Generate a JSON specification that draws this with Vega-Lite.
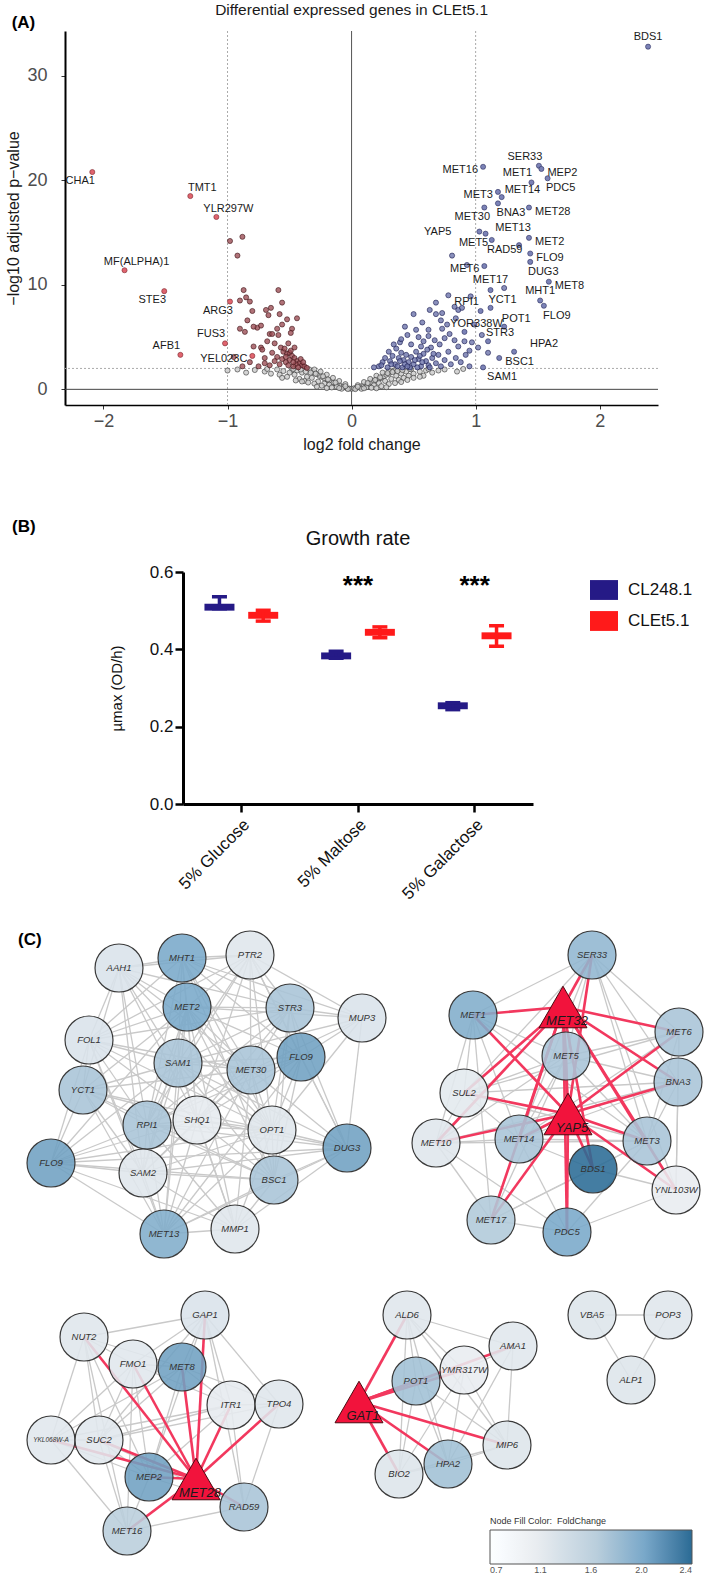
{
"$schema":"https://vega.github.io/schema/vega-lite/v6.json",
"background":"white",
"padding":{"left":4,"top":2,"right":0,"bottom":0},
"config":{"view":{"stroke":null},"font":"Liberation Sans","axis":{"grid":false},"title":{"font":"Liberation Sans"},"legend":{"labelFont":"Liberation Sans","titleFont":"Liberation Sans"}},
"datasets":{
"vn":[{"x":0,"y":0.05},{"x":0.02,"y":0.1},{"x":-0.02,"y":0.08},{"x":0.04,"y":0.15},{"x":-0.04,"y":0.12},{"x":0.06,"y":0.2},{"x":-0.06,"y":0.22},{"x":0.08,"y":0.3},{"x":-0.08,"y":0.28},{"x":0.1,"y":0.35},{"x":-0.1,"y":0.4},{"x":0.12,"y":0.45},{"x":-0.12,"y":0.5},{"x":0.14,"y":0.55},{"x":-0.14,"y":0.6},{"x":0.16,"y":0.7},{"x":-0.16,"y":0.65},{"x":0.18,"y":0.8},{"x":-0.18,"y":0.85},{"x":0.2,"y":0.9},{"x":-0.2,"y":0.95},{"x":0.22,"y":1.0},{"x":-0.22,"y":1.05},{"x":0.24,"y":1.1},{"x":-0.24,"y":1.2},{"x":0.26,"y":1.25},{"x":-0.26,"y":1.3},{"x":0.28,"y":1.4},{"x":-0.28,"y":1.45},{"x":0.3,"y":1.5},{"x":-0.3,"y":1.6},{"x":0.32,"y":1.7},{"x":-0.32,"y":1.75},{"x":0.34,"y":1.8},{"x":-0.34,"y":1.9},{"x":0.36,"y":1.9},{"x":0.05,"y":0.4},{"x":-0.05,"y":0.5},{"x":0.1,"y":0.7},{"x":-0.1,"y":0.8},{"x":0.15,"y":1.0},{"x":-0.15,"y":1.1},{"x":0.2,"y":1.3},{"x":-0.2,"y":1.4},{"x":0.25,"y":1.6},{"x":-0.25,"y":1.7},{"x":0.3,"y":1.8},{"x":-0.3,"y":1.9},{"x":0.12,"y":0.2},{"x":-0.12,"y":0.25},{"x":0.18,"y":0.4},{"x":-0.18,"y":0.45},{"x":0.22,"y":0.6},{"x":-0.22,"y":0.55},{"x":0.27,"y":0.8},{"x":-0.27,"y":0.75},{"x":0.32,"y":1.0},{"x":-0.32,"y":1.1},{"x":0.36,"y":1.3},{"x":-0.36,"y":1.2},{"x":0.4,"y":1.5},{"x":-0.4,"y":1.6},{"x":0.44,"y":1.7},{"x":-0.44,"y":1.8},{"x":0.48,"y":1.9},{"x":-0.48,"y":1.85},{"x":0.38,"y":0.9},{"x":-0.38,"y":0.8},{"x":0.42,"y":1.1},{"x":-0.42,"y":1.0},{"x":0.46,"y":1.3},{"x":-0.46,"y":1.4},{"x":0.5,"y":1.5},{"x":-0.5,"y":1.6},{"x":0.55,"y":1.7},{"x":-0.55,"y":1.75},{"x":0.6,"y":1.8},{"x":-0.6,"y":1.9},{"x":0.5,"y":1.1},{"x":-0.52,"y":1.2},{"x":0.58,"y":1.3},{"x":-0.58,"y":1.4},{"x":0.65,"y":1.6},{"x":-0.65,"y":1.5},{"x":0.7,"y":1.8},{"x":-0.7,"y":1.7},{"x":0.75,"y":1.9},{"x":-0.78,"y":1.85},{"x":0.85,"y":1.7},{"x":-0.85,"y":1.6},{"x":-0.92,"y":1.9},{"x":0.9,"y":1.95},{"x":-1.0,"y":1.8},{"x":0.62,"y":1.95},{"x":-0.68,"y":1.95},{"x":0.08,"y":0.05},{"x":-0.08,"y":0.06},{"x":0.03,"y":0.02},{"x":-0.03,"y":0.03},{"x":0.16,"y":0.15},{"x":-0.16,"y":0.18},{"x":0.24,"y":0.3},{"x":-0.24,"y":0.35},{"x":0.3,"y":0.5},{"x":-0.3,"y":0.55},{"x":0.35,"y":0.6},{"x":-0.35,"y":0.65},{"x":0.28,"y":0.2},{"x":-0.28,"y":0.25},{"x":0.2,"y":0.1},{"x":-0.2,"y":0.12},{"x":0.1,"y":0.1},{"x":-0.1,"y":0.12},{"x":0.45,"y":0.9},{"x":-0.45,"y":0.85},{"x":0.4,"y":0.7},{"x":-0.4,"y":0.75},{"x":0.55,"y":1.2},{"x":-0.56,"y":1.1},{"x":0.05,"y":0.25},{"x":-0.05,"y":0.3},{"x":0.13,"y":0.6},{"x":-0.13,"y":0.65},{"x":0.19,"y":0.9},{"x":-0.19,"y":0.95},{"x":0.23,"y":1.15},{"x":-0.23,"y":1.25},{"x":0.29,"y":1.55},{"x":-0.29,"y":1.5},{"x":0.33,"y":1.65},{"x":-0.33,"y":1.6},{"x":0.37,"y":1.75},{"x":-0.37,"y":1.7},{"x":0.41,"y":1.85},{"x":-0.41,"y":1.9},{"x":0.47,"y":1.95},{"x":-0.47,"y":1.95}],
"vd":[{"x":-0.98,"y":14.2},{"x":-0.88,"y":14.6},{"x":-0.92,"y":12.8},{"x":-0.87,"y":9.5},{"x":-0.59,"y":9.5},{"x":-0.9,"y":8.5},{"x":-0.85,"y":8.8},{"x":-0.82,"y":8.4},{"x":-0.56,"y":8.3},{"x":-0.8,"y":7.5},{"x":-0.65,"y":7.8},{"x":-0.69,"y":7.6},{"x":-0.67,"y":7.1},{"x":-0.58,"y":7.2},{"x":-0.84,"y":6.6},{"x":-0.76,"y":5.9},{"x":-0.79,"y":6.0},{"x":-0.73,"y":6.1},{"x":-0.52,"y":6.7},{"x":-0.44,"y":6.8},{"x":-0.56,"y":6.2},{"x":-0.6,"y":5.8},{"x":-0.48,"y":5.8},{"x":-0.9,"y":5.8},{"x":-0.86,"y":5.5},{"x":-0.49,"y":5.4},{"x":-0.66,"y":5.3},{"x":-0.64,"y":5.3},{"x":-0.59,"y":5.2},{"x":-0.79,"y":4.1},{"x":-0.73,"y":4.0},{"x":-0.57,"y":4.0},{"x":-0.7,"y":3.0},{"x":-0.55,"y":3.6},{"x":-0.52,"y":3.4},{"x":-0.5,"y":3.5},{"x":-0.48,"y":3.2},{"x":-0.46,"y":3.0},{"x":-0.5,"y":2.8},{"x":-0.44,"y":2.7},{"x":-0.42,"y":2.5},{"x":-0.4,"y":2.3},{"x":-0.38,"y":2.2},{"x":-0.45,"y":2.4},{"x":-0.53,"y":2.6},{"x":-0.56,"y":2.9},{"x":-0.6,"y":3.1},{"x":-0.62,"y":2.7},{"x":-0.58,"y":2.4},{"x":-0.47,"y":2.2},{"x":-0.43,"y":2.1},{"x":-0.36,"y":2.05},{"x":-0.49,"y":3.7},{"x":-0.54,"y":3.9},{"x":-0.41,"y":2.9},{"x":-0.39,"y":2.6},{"x":-0.66,"y":2.3},{"x":-0.7,"y":2.5},{"x":-0.75,"y":2.2},{"x":-0.64,"y":3.5},{"x":-0.51,"y":4.4},{"x":-0.46,"y":4.0},{"x":-0.68,"y":4.6},{"x":-0.62,"y":4.4},{"x":-0.82,"y":2.6},{"x":-0.88,"y":2.2},{"x":-0.95,"y":3.1},{"x":-0.72,"y":3.8},{"x":-0.53,"y":3.1},{"x":-0.47,"y":2.6},{"x":-0.51,"y":2.3}],
"vu":[{"x":0.81,"y":12.8},{"x":0.93,"y":11.9},{"x":1.23,"y":9.7},{"x":0.68,"y":8.3},{"x":0.5,"y":7.2},{"x":0.68,"y":7.2},{"x":0.83,"y":7.9},{"x":0.86,"y":7.6},{"x":0.89,"y":7.8},{"x":0.77,"y":6.2},{"x":0.43,"y":6.0},{"x":0.52,"y":5.7},{"x":0.62,"y":5.7},{"x":0.73,"y":5.8},{"x":0.45,"y":5.2},{"x":0.54,"y":5.0},{"x":0.62,"y":5.1},{"x":0.67,"y":4.7},{"x":0.75,"y":4.9},{"x":0.83,"y":4.7},{"x":0.91,"y":4.6},{"x":0.97,"y":4.5},{"x":0.39,"y":4.5},{"x":0.48,"y":4.3},{"x":0.56,"y":4.1},{"x":0.64,"y":4.0},{"x":0.3,"y":3.6},{"x":0.33,"y":3.2},{"x":0.36,"y":3.9},{"x":0.38,"y":3.0},{"x":0.4,"y":3.5},{"x":0.42,"y":2.8},{"x":0.44,"y":3.3},{"x":0.46,"y":2.6},{"x":0.48,"y":3.1},{"x":0.5,"y":2.4},{"x":0.52,"y":3.6},{"x":0.54,"y":2.9},{"x":0.56,"y":2.2},{"x":0.58,"y":3.4},{"x":0.6,"y":2.7},{"x":0.62,"y":2.3},{"x":0.65,"y":3.0},{"x":0.68,"y":2.5},{"x":0.7,"y":3.3},{"x":0.72,"y":2.2},{"x":0.75,"y":2.8},{"x":0.78,"y":3.6},{"x":0.8,"y":2.4},{"x":0.84,"y":3.0},{"x":0.88,"y":2.6},{"x":0.92,"y":3.3},{"x":0.95,"y":2.2},{"x":0.25,"y":2.6},{"x":0.27,"y":3.0},{"x":0.22,"y":2.2},{"x":0.18,"y":2.1},{"x":0.24,"y":2.3},{"x":0.29,"y":2.1},{"x":0.31,"y":2.7},{"x":0.35,"y":2.4},{"x":0.37,"y":2.2},{"x":0.41,"y":2.1},{"x":0.43,"y":2.4},{"x":0.47,"y":2.1},{"x":0.53,"y":2.1},{"x":0.57,"y":2.6},{"x":0.63,"y":2.1},{"x":0.34,"y":4.3},{"x":0.4,"y":4.8},{"x":0.58,"y":4.6},{"x":0.71,"y":4.3},{"x":0.79,"y":5.3},{"x":0.86,"y":4.1},{"x":0.95,"y":3.7},{"x":1.02,"y":4.0},{"x":0.99,"y":6.2},{"x":0.72,"y":6.6},{"x":0.57,"y":6.4},{"x":0.63,"y":7.6},{"x":0.78,"y":9.0},{"x":0.96,"y":8.9},{"x":0.73,"y":7.3},{"x":0.84,"y":6.8},{"x":1.05,"y":5.2},{"x":1.1,"y":3.5},{"x":0.32,"y":2.4},{"x":0.39,"y":2.7},{"x":0.45,"y":2.2},{"x":0.51,"y":2.8},{"x":0.55,"y":3.2},{"x":0.61,"y":3.8},{"x":0.66,"y":3.4}],
"vl":[{"g":"CHA1","x":-2.09,"y":20.8,"c":"d"},{"g":"TMT1","x":-1.3,"y":18.5,"c":"d"},{"g":"YLR297W","x":-1.09,"y":16.5,"c":"d"},{"g":"MF(ALPHA)1","x":-1.83,"y":11.4,"c":"d"},{"g":"STE3","x":-1.51,"y":9.4,"c":"d"},{"g":"ARG3","x":-0.98,"y":8.4,"c":"d"},{"g":"FUS3","x":-1.02,"y":4.4,"c":"d"},{"g":"AFB1","x":-1.38,"y":3.3,"c":"d"},{"g":"YEL023C","x":-0.8,"y":3.2,"c":"d"},
{"g":"BDS1","x":2.39,"y":32.8,"c":"u"},{"g":"SER33","x":1.51,"y":21.4,"c":"u"},{"g":"MEP2","x":1.53,"y":21.1,"c":"u"},{"g":"PDC5","x":1.58,"y":20.2,"c":"u"},{"g":"MET16","x":1.06,"y":21.3,"c":"u"},{"g":"MET1","x":1.45,"y":19.8,"c":"u"},{"g":"MET3","x":1.18,"y":18.9,"c":"u"},{"g":"MET14","x":1.21,"y":18.4,"c":"u"},{"g":"BNA3","x":1.18,"y":17.8,"c":"u"},{"g":"MET30","x":1.07,"y":17.4,"c":"u"},{"g":"MET28","x":1.43,"y":17.4,"c":"u"},{"g":"YAP5","x":1.03,"y":15.1,"c":"u"},{"g":"MET5","x":1.08,"y":14.9,"c":"u"},{"g":"RAD59","x":1.13,"y":14.3,"c":"u"},{"g":"MET13","x":1.35,"y":13.8,"c":"u"},{"g":"MET2","x":1.43,"y":14.5,"c":"u"},{"g":"FLO9","x":1.44,"y":13.0,"c":"u"},{"g":"DUG3","x":1.44,"y":12.2,"c":"u"},{"g":"MET6","x":1.07,"y":11.8,"c":"u"},{"g":"MET8","x":1.59,"y":10.3,"c":"u"},{"g":"MET17","x":1.12,"y":9.5,"c":"u"},{"g":"RPI1","x":1.04,"y":7.5,"c":"u"},{"g":"YCT1","x":1.12,"y":7.8,"c":"u"},{"g":"MHT1","x":1.52,"y":8.5,"c":"u"},{"g":"FLO9","x":1.55,"y":8.0,"c":"u"},{"g":"YOR338W","x":0.91,"y":5.5,"c":"u"},{"g":"POT1","x":1.23,"y":6.0,"c":"u"},{"g":"STR3","x":1.1,"y":4.6,"c":"u"},{"g":"HPA2","x":1.31,"y":3.6,"c":"u"},{"g":"BSC1","x":1.19,"y":3.0,"c":"u"},{"g":"SAM1","x":1.06,"y":2.1,"c":"u"}],
"growth":[{"cond":"5% Glucose","strain":"CL248.1","m":0.509,"lo":0.505,"hi":0.536},{"cond":"5% Glucose","strain":"CLEt5.1","m":0.488,"lo":0.473,"hi":0.501},{"cond":"5% Maltose","strain":"CL248.1","m":0.383,"lo":0.377,"hi":0.395},{"cond":"5% Maltose","strain":"CLEt5.1","m":0.444,"lo":0.43,"hi":0.458},{"cond":"5% Galactose","strain":"CL248.1","m":0.254,"lo":0.244,"hi":0.262},{"cond":"5% Galactose","strain":"CLEt5.1","m":0.435,"lo":0.408,"hi":0.461}],
"stars":[{"cond":"5% Maltose","sig":"***"},{"cond":"5% Galactose","sig":"***"}],
"nodes":[
{"id":"AAH1","n":"AAH1","x":119,"y":963,"fc":1.25,"tf":0},{"id":"MHT1","n":"MHT1","x":182,"y":953,"fc":2.0,"tf":0},{"id":"PTR2","n":"PTR2","x":250,"y":950,"fc":1.2,"tf":0},{"id":"MET2","n":"MET2","x":187,"y":1002,"fc":2.0,"tf":0},{"id":"STR3","n":"STR3","x":290,"y":1003,"fc":1.7,"tf":0},{"id":"MUP3","n":"MUP3","x":362,"y":1013,"fc":1.25,"tf":0},{"id":"FOL1","n":"FOL1","x":89,"y":1035,"fc":1.25,"tf":0},{"id":"SAM1","n":"SAM1","x":178,"y":1058,"fc":1.7,"tf":0},{"id":"MET30","n":"MET30","x":251,"y":1065,"fc":1.7,"tf":0},{"id":"FLO9a","n":"FLO9","x":301,"y":1052,"fc":2.05,"tf":0},{"id":"YCT1","n":"YCT1","x":83,"y":1085,"fc":1.7,"tf":0},{"id":"RPI1","n":"RPI1","x":147,"y":1120,"fc":1.7,"tf":0},{"id":"SHQ1","n":"SHQ1","x":197,"y":1115,"fc":1.12,"tf":0},{"id":"OPT1","n":"OPT1","x":272,"y":1125,"fc":1.2,"tf":0},{"id":"DUG3","n":"DUG3","x":347,"y":1143,"fc":2.05,"tf":0},{"id":"FLO9b","n":"FLO9","x":51,"y":1158,"fc":2.05,"tf":0},{"id":"SAM2","n":"SAM2","x":143,"y":1168,"fc":1.2,"tf":0},{"id":"BSC1","n":"BSC1","x":274,"y":1175,"fc":1.7,"tf":0},{"id":"MET13","n":"MET13","x":164,"y":1229,"fc":1.95,"tf":0},{"id":"MMP1","n":"MMP1","x":235,"y":1224,"fc":1.2,"tf":0},
{"id":"SER33","n":"SER33","x":592,"y":950,"fc":1.85,"tf":0},{"id":"MET1","n":"MET1","x":473,"y":1010,"fc":1.95,"tf":0},{"id":"MET6","n":"MET6","x":679,"y":1027,"fc":1.7,"tf":0},{"id":"MET5","n":"MET5","x":566,"y":1051,"fc":1.7,"tf":0},{"id":"SUL2","n":"SUL2","x":464,"y":1088,"fc":1.15,"tf":0},{"id":"BNA3","n":"BNA3","x":678,"y":1077,"fc":1.7,"tf":0},{"id":"MET10","n":"MET10","x":436,"y":1138,"fc":1.2,"tf":0},{"id":"MET14","n":"MET14","x":519,"y":1134,"fc":1.7,"tf":0},{"id":"MET3","n":"MET3","x":647,"y":1136,"fc":1.7,"tf":0},{"id":"BDS1","n":"BDS1","x":593,"y":1164,"fc":2.4,"tf":0},{"id":"YNL103W","n":"YNL103W","x":676,"y":1185,"fc":1.1,"tf":0},{"id":"MET17","n":"MET17","x":491,"y":1215,"fc":1.65,"tf":0},{"id":"PDC5","n":"PDC5","x":567,"y":1227,"fc":2.0,"tf":0},
{"id":"GAP1","n":"GAP1","x":205,"y":1310,"fc":1.25,"tf":0},{"id":"NUT2","n":"NUT2","x":84,"y":1332,"fc":1.2,"tf":0},{"id":"FMO1","n":"FMO1","x":133,"y":1359,"fc":1.18,"tf":0},{"id":"MET8","n":"MET8","x":182,"y":1362,"fc":2.05,"tf":0},{"id":"ITR1","n":"ITR1","x":231,"y":1400,"fc":1.12,"tf":0},{"id":"TPO4","n":"TPO4","x":279,"y":1399,"fc":1.2,"tf":0},{"id":"YKL068W-A","n":"YKL068W-A","x":51,"y":1435,"fc":1.18,"tf":0},{"id":"SUC2","n":"SUC2","x":99,"y":1435,"fc":1.18,"tf":0},{"id":"MEP2","n":"MEP2","x":149,"y":1472,"fc":2.05,"tf":0},{"id":"RAD59","n":"RAD59","x":244,"y":1502,"fc":1.7,"tf":0},{"id":"MET16","n":"MET16","x":127,"y":1526,"fc":1.6,"tf":0},
{"id":"ALD6","n":"ALD6","x":407,"y":1310,"fc":1.2,"tf":0},{"id":"AMA1","n":"AMA1","x":513,"y":1341,"fc":1.18,"tf":0},{"id":"YMR317W","n":"YMR317W","x":464,"y":1365,"fc":1.1,"tf":0},{"id":"POT1","n":"POT1","x":416,"y":1376,"fc":1.75,"tf":0},{"id":"MIP6","n":"MIP6","x":507,"y":1440,"fc":1.22,"tf":0},{"id":"BIO2","n":"BIO2","x":399,"y":1469,"fc":1.22,"tf":0},{"id":"HPA2","n":"HPA2","x":448,"y":1459,"fc":1.75,"tf":0},
{"id":"VBA5","n":"VBA5","x":592,"y":1310,"fc":1.22,"tf":0},{"id":"POP3","n":"POP3","x":668,"y":1310,"fc":1.2,"tf":0},{"id":"ALP1","n":"ALP1","x":631,"y":1375,"fc":1.22,"tf":0},
{"id":"MET32","n":"MET32","x":563,"y":1002,"tf":1},{"id":"YAP5","n":"YAP5","x":568,"y":1109,"tf":1},{"id":"MET28","n":"MET28","x":196,"y":1474,"tf":1},{"id":"GAT1","n":"GAT1","x":359,"y":1397,"tf":1}],
"edges":[
{"s":"AAH1","t":"MHT1","k":"g"},{"s":"AAH1","t":"MET2","k":"g"},{"s":"AAH1","t":"FOL1","k":"g"},{"s":"AAH1","t":"SAM1","k":"g"},{"s":"AAH1","t":"MET30","k":"g"},{"s":"AAH1","t":"YCT1","k":"g"},{"s":"AAH1","t":"RPI1","k":"g"},{"s":"AAH1","t":"SHQ1","k":"g"},{"s":"AAH1","t":"OPT1","k":"g"},{"s":"AAH1","t":"STR3","k":"g"},{"s":"AAH1","t":"SAM2","k":"g"},{"s":"AAH1","t":"PTR2","k":"g"},
{"s":"MHT1","t":"PTR2","k":"g"},{"s":"MHT1","t":"MET2","k":"g"},{"s":"MHT1","t":"STR3","k":"g"},{"s":"MHT1","t":"SAM1","k":"g"},{"s":"MHT1","t":"MET30","k":"g"},{"s":"MHT1","t":"FLO9a","k":"g"},{"s":"MHT1","t":"RPI1","k":"g"},{"s":"MHT1","t":"SHQ1","k":"g"},{"s":"MHT1","t":"OPT1","k":"g"},{"s":"MHT1","t":"FOL1","k":"g"},{"s":"MHT1","t":"BSC1","k":"g"},{"s":"MHT1","t":"MUP3","k":"g"},
{"s":"PTR2","t":"MET2","k":"g"},{"s":"PTR2","t":"STR3","k":"g"},{"s":"PTR2","t":"MUP3","k":"g"},{"s":"PTR2","t":"SAM1","k":"g"},{"s":"PTR2","t":"MET30","k":"g"},{"s":"PTR2","t":"FLO9a","k":"g"},{"s":"PTR2","t":"SHQ1","k":"g"},{"s":"PTR2","t":"OPT1","k":"g"},{"s":"PTR2","t":"RPI1","k":"g"},{"s":"PTR2","t":"FOL1","k":"g"},{"s":"PTR2","t":"DUG3","k":"g"},
{"s":"MET2","t":"STR3","k":"g"},{"s":"MET2","t":"FOL1","k":"g"},{"s":"MET2","t":"SAM1","k":"g"},{"s":"MET2","t":"MET30","k":"g"},{"s":"MET2","t":"FLO9a","k":"g"},{"s":"MET2","t":"YCT1","k":"g"},{"s":"MET2","t":"RPI1","k":"g"},{"s":"MET2","t":"SHQ1","k":"g"},{"s":"MET2","t":"OPT1","k":"g"},{"s":"MET2","t":"SAM2","k":"g"},{"s":"MET2","t":"BSC1","k":"g"},{"s":"MET2","t":"MET13","k":"g"},{"s":"MET2","t":"MMP1","k":"g"},{"s":"MET2","t":"FLO9b","k":"g"},{"s":"MET2","t":"MUP3","k":"g"},
{"s":"STR3","t":"MUP3","k":"g"},{"s":"STR3","t":"SAM1","k":"g"},{"s":"STR3","t":"MET30","k":"g"},{"s":"STR3","t":"FLO9a","k":"g"},{"s":"STR3","t":"SHQ1","k":"g"},{"s":"STR3","t":"OPT1","k":"g"},{"s":"STR3","t":"DUG3","k":"g"},{"s":"STR3","t":"RPI1","k":"g"},{"s":"STR3","t":"BSC1","k":"g"},{"s":"STR3","t":"FOL1","k":"g"},
{"s":"MUP3","t":"FLO9a","k":"g"},{"s":"MUP3","t":"MET30","k":"g"},{"s":"MUP3","t":"OPT1","k":"g"},{"s":"MUP3","t":"DUG3","k":"g"},{"s":"MUP3","t":"SAM1","k":"g"},
{"s":"FOL1","t":"SAM1","k":"g"},{"s":"FOL1","t":"YCT1","k":"g"},{"s":"FOL1","t":"RPI1","k":"g"},{"s":"FOL1","t":"SHQ1","k":"g"},{"s":"FOL1","t":"MET30","k":"g"},{"s":"FOL1","t":"SAM2","k":"g"},{"s":"FOL1","t":"FLO9b","k":"g"},{"s":"FOL1","t":"MET13","k":"g"},{"s":"FOL1","t":"OPT1","k":"g"},
{"s":"SAM1","t":"MET30","k":"g"},{"s":"SAM1","t":"YCT1","k":"g"},{"s":"SAM1","t":"RPI1","k":"g"},{"s":"SAM1","t":"SHQ1","k":"g"},{"s":"SAM1","t":"OPT1","k":"g"},{"s":"SAM1","t":"SAM2","k":"g"},{"s":"SAM1","t":"BSC1","k":"g"},{"s":"SAM1","t":"MET13","k":"g"},{"s":"SAM1","t":"MMP1","k":"g"},{"s":"SAM1","t":"FLO9b","k":"g"},{"s":"SAM1","t":"FLO9a","k":"g"},{"s":"SAM1","t":"DUG3","k":"g"},
{"s":"MET30","t":"FLO9a","k":"g"},{"s":"MET30","t":"RPI1","k":"g"},{"s":"MET30","t":"SHQ1","k":"g"},{"s":"MET30","t":"OPT1","k":"g"},{"s":"MET30","t":"DUG3","k":"g"},{"s":"MET30","t":"BSC1","k":"g"},{"s":"MET30","t":"SAM2","k":"g"},{"s":"MET30","t":"MET13","k":"g"},{"s":"MET30","t":"MMP1","k":"g"},{"s":"MET30","t":"YCT1","k":"g"},
{"s":"FLO9a","t":"OPT1","k":"g"},{"s":"FLO9a","t":"DUG3","k":"g"},{"s":"FLO9a","t":"SHQ1","k":"g"},{"s":"FLO9a","t":"BSC1","k":"g"},{"s":"FLO9a","t":"RPI1","k":"g"},{"s":"FLO9a","t":"MET13","k":"g"},
{"s":"YCT1","t":"RPI1","k":"g"},{"s":"YCT1","t":"SHQ1","k":"g"},{"s":"YCT1","t":"SAM2","k":"g"},{"s":"YCT1","t":"FLO9b","k":"g"},{"s":"YCT1","t":"MET13","k":"g"},{"s":"YCT1","t":"OPT1","k":"g"},{"s":"YCT1","t":"BSC1","k":"g"},
{"s":"RPI1","t":"SHQ1","k":"g"},{"s":"RPI1","t":"OPT1","k":"g"},{"s":"RPI1","t":"SAM2","k":"g"},{"s":"RPI1","t":"BSC1","k":"g"},{"s":"RPI1","t":"MET13","k":"g"},{"s":"RPI1","t":"MMP1","k":"g"},{"s":"RPI1","t":"FLO9b","k":"g"},{"s":"RPI1","t":"DUG3","k":"g"},
{"s":"SHQ1","t":"OPT1","k":"g"},{"s":"SHQ1","t":"SAM2","k":"g"},{"s":"SHQ1","t":"BSC1","k":"g"},{"s":"SHQ1","t":"MET13","k":"g"},{"s":"SHQ1","t":"MMP1","k":"g"},{"s":"SHQ1","t":"FLO9b","k":"g"},{"s":"SHQ1","t":"DUG3","k":"g"},
{"s":"OPT1","t":"DUG3","k":"g"},{"s":"OPT1","t":"BSC1","k":"g"},{"s":"OPT1","t":"SAM2","k":"g"},{"s":"OPT1","t":"MET13","k":"g"},{"s":"OPT1","t":"MMP1","k":"g"},{"s":"OPT1","t":"FLO9b","k":"g"},
{"s":"DUG3","t":"BSC1","k":"g"},{"s":"DUG3","t":"MMP1","k":"g"},{"s":"DUG3","t":"MET13","k":"g"},{"s":"DUG3","t":"SAM2","k":"g"},{"s":"DUG3","t":"FLO9b","k":"g"},
{"s":"FLO9b","t":"SAM2","k":"g"},{"s":"FLO9b","t":"MET13","k":"g"},{"s":"FLO9b","t":"MMP1","k":"g"},{"s":"FLO9b","t":"BSC1","k":"g"},
{"s":"SAM2","t":"MET13","k":"g"},{"s":"SAM2","t":"MMP1","k":"g"},{"s":"SAM2","t":"BSC1","k":"g"},{"s":"BSC1","t":"MET13","k":"g"},{"s":"BSC1","t":"MMP1","k":"g"},{"s":"MET13","t":"MMP1","k":"g"},
{"s":"SER33","t":"MET1","k":"g"},{"s":"SER33","t":"MET6","k":"g"},{"s":"SER33","t":"BNA3","k":"g"},{"s":"SER33","t":"MET5","k":"g"},{"s":"SER33","t":"MET3","k":"g"},{"s":"SER33","t":"YNL103W","k":"g"},{"s":"SER33","t":"MET14","k":"g"},{"s":"SER33","t":"SUL2","k":"g"},
{"s":"MET1","t":"SUL2","k":"g"},{"s":"MET1","t":"MET5","k":"g"},{"s":"MET1","t":"MET10","k":"g"},{"s":"MET1","t":"MET14","k":"g"},{"s":"MET1","t":"MET3","k":"g"},{"s":"MET1","t":"MET17","k":"g"},
{"s":"MET6","t":"BNA3","k":"g"},{"s":"MET6","t":"MET5","k":"g"},{"s":"MET6","t":"MET14","k":"g"},{"s":"MET6","t":"MET3","k":"g"},{"s":"MET6","t":"YNL103W","k":"g"},{"s":"MET6","t":"SUL2","k":"g"},
{"s":"MET5","t":"SUL2","k":"g"},{"s":"MET5","t":"BNA3","k":"g"},{"s":"MET5","t":"MET14","k":"g"},{"s":"MET5","t":"MET3","k":"g"},{"s":"MET5","t":"MET10","k":"g"},{"s":"MET5","t":"MET17","k":"g"},{"s":"MET5","t":"PDC5","k":"g"},
{"s":"SUL2","t":"MET10","k":"g"},{"s":"SUL2","t":"MET14","k":"g"},{"s":"SUL2","t":"MET3","k":"g"},{"s":"SUL2","t":"BNA3","k":"g"},
{"s":"BNA3","t":"MET14","k":"g"},{"s":"BNA3","t":"MET3","k":"g"},{"s":"BNA3","t":"YNL103W","k":"g"},{"s":"BNA3","t":"MET10","k":"g"},
{"s":"MET10","t":"MET14","k":"g"},{"s":"MET10","t":"MET17","k":"g"},{"s":"MET10","t":"MET3","k":"g"},{"s":"MET10","t":"PDC5","k":"g"},
{"s":"MET14","t":"MET3","k":"g"},{"s":"MET14","t":"MET17","k":"g"},{"s":"MET14","t":"BDS1","k":"g"},{"s":"MET14","t":"PDC5","k":"g"},
{"s":"MET3","t":"YNL103W","k":"g"},{"s":"MET3","t":"BDS1","k":"g"},{"s":"MET3","t":"MET17","k":"g"},{"s":"MET3","t":"PDC5","k":"g"},
{"s":"BDS1","t":"MET17","k":"g"},{"s":"BDS1","t":"YNL103W","k":"g"},{"s":"MET17","t":"PDC5","k":"g"},{"s":"PDC5","t":"YNL103W","k":"g"},
{"s":"MET32","t":"SER33","k":"r"},{"s":"MET32","t":"MET1","k":"r"},{"s":"MET32","t":"MET6","k":"r"},{"s":"MET32","t":"MET5","k":"r"},{"s":"MET32","t":"SUL2","k":"r"},{"s":"MET32","t":"BNA3","k":"r"},{"s":"MET32","t":"MET10","k":"r"},{"s":"MET32","t":"MET14","k":"r"},{"s":"MET32","t":"MET3","k":"r"},{"s":"MET32","t":"MET17","k":"r"},{"s":"MET32","t":"PDC5","k":"r"},{"s":"MET32","t":"YNL103W","k":"r"},{"s":"MET32","t":"BDS1","k":"r"},{"s":"MET32","t":"YAP5","k":"r"},
{"s":"YAP5","t":"SER33","k":"r"},{"s":"YAP5","t":"MET1","k":"r"},{"s":"YAP5","t":"MET6","k":"r"},{"s":"YAP5","t":"SUL2","k":"r"},{"s":"YAP5","t":"BNA3","k":"r"},{"s":"YAP5","t":"MET10","k":"r"},{"s":"YAP5","t":"MET14","k":"r"},{"s":"YAP5","t":"MET3","k":"r"},{"s":"YAP5","t":"MET17","k":"r"},{"s":"YAP5","t":"PDC5","k":"r"},{"s":"YAP5","t":"YNL103W","k":"r"},{"s":"YAP5","t":"MET5","k":"r"},{"s":"YAP5","t":"BDS1","k":"r"},
{"s":"GAP1","t":"NUT2","k":"g"},{"s":"GAP1","t":"FMO1","k":"g"},{"s":"GAP1","t":"MET8","k":"g"},{"s":"GAP1","t":"ITR1","k":"g"},{"s":"GAP1","t":"TPO4","k":"g"},{"s":"GAP1","t":"SUC2","k":"g"},{"s":"GAP1","t":"MEP2","k":"g"},{"s":"GAP1","t":"RAD59","k":"g"},
{"s":"NUT2","t":"FMO1","k":"g"},{"s":"NUT2","t":"YKL068W-A","k":"g"},{"s":"NUT2","t":"SUC2","k":"g"},{"s":"NUT2","t":"MEP2","k":"g"},{"s":"NUT2","t":"MET16","k":"g"},{"s":"NUT2","t":"MET8","k":"g"},
{"s":"FMO1","t":"MET8","k":"g"},{"s":"FMO1","t":"SUC2","k":"g"},{"s":"FMO1","t":"YKL068W-A","k":"g"},{"s":"FMO1","t":"MEP2","k":"g"},{"s":"FMO1","t":"ITR1","k":"g"},{"s":"FMO1","t":"MET16","k":"g"},
{"s":"MET8","t":"ITR1","k":"g"},{"s":"MET8","t":"SUC2","k":"g"},{"s":"MET8","t":"MEP2","k":"g"},{"s":"MET8","t":"TPO4","k":"g"},{"s":"MET8","t":"YKL068W-A","k":"g"},
{"s":"ITR1","t":"TPO4","k":"g"},{"s":"ITR1","t":"SUC2","k":"g"},{"s":"ITR1","t":"MEP2","k":"g"},{"s":"ITR1","t":"RAD59","k":"g"},{"s":"ITR1","t":"YKL068W-A","k":"g"},
{"s":"TPO4","t":"RAD59","k":"g"},{"s":"TPO4","t":"SUC2","k":"g"},{"s":"YKL068W-A","t":"SUC2","k":"g"},{"s":"YKL068W-A","t":"MEP2","k":"g"},{"s":"YKL068W-A","t":"MET16","k":"g"},
{"s":"SUC2","t":"MEP2","k":"g"},{"s":"SUC2","t":"MET16","k":"g"},{"s":"SUC2","t":"RAD59","k":"g"},{"s":"MEP2","t":"MET16","k":"g"},{"s":"MEP2","t":"RAD59","k":"g"},{"s":"MET16","t":"RAD59","k":"g"},
{"s":"MET28","t":"NUT2","k":"r"},{"s":"MET28","t":"FMO1","k":"r"},{"s":"MET28","t":"MET8","k":"r"},{"s":"MET28","t":"GAP1","k":"r"},{"s":"MET28","t":"ITR1","k":"r"},{"s":"MET28","t":"TPO4","k":"r"},{"s":"MET28","t":"SUC2","k":"r"},{"s":"MET28","t":"MEP2","k":"r"},{"s":"MET28","t":"YKL068W-A","k":"r"},{"s":"MET28","t":"RAD59","k":"r"},{"s":"MET28","t":"MET16","k":"r"},
{"s":"ALD6","t":"AMA1","k":"g"},{"s":"ALD6","t":"YMR317W","k":"g"},{"s":"ALD6","t":"POT1","k":"g"},{"s":"ALD6","t":"BIO2","k":"g"},{"s":"ALD6","t":"HPA2","k":"g"},{"s":"ALD6","t":"MIP6","k":"g"},{"s":"AMA1","t":"YMR317W","k":"g"},{"s":"AMA1","t":"POT1","k":"g"},{"s":"AMA1","t":"MIP6","k":"g"},{"s":"AMA1","t":"HPA2","k":"g"},{"s":"YMR317W","t":"POT1","k":"g"},{"s":"YMR317W","t":"MIP6","k":"g"},{"s":"YMR317W","t":"HPA2","k":"g"},{"s":"YMR317W","t":"BIO2","k":"g"},{"s":"POT1","t":"BIO2","k":"g"},{"s":"POT1","t":"HPA2","k":"g"},{"s":"POT1","t":"MIP6","k":"g"},{"s":"MIP6","t":"HPA2","k":"g"},{"s":"MIP6","t":"BIO2","k":"g"},{"s":"BIO2","t":"HPA2","k":"g"},
{"s":"GAT1","t":"ALD6","k":"r"},{"s":"GAT1","t":"POT1","k":"r"},{"s":"GAT1","t":"YMR317W","k":"r"},{"s":"GAT1","t":"AMA1","k":"r"},{"s":"GAT1","t":"MIP6","k":"r"},{"s":"GAT1","t":"HPA2","k":"r"},{"s":"GAT1","t":"BIO2","k":"r"},
{"s":"VBA5","t":"POP3","k":"g"},{"s":"VBA5","t":"ALP1","k":"g"},{"s":"POP3","t":"ALP1","k":"g"}]
},
"spacing":10,
"vconcat":[
{"spacing":65,"vconcat":[
{"spacing":0,"hconcat":[
{"width":1,"height":1,"data":{"values":[{}]},"mark":{"type":"text","text":""},"encoding":{}},
{"width":593,"height":374,
"layer":[
{"data":{"values":[{"v":-1},{"v":1}]},"mark":{"type":"rule","color":"#aaaaaa","strokeWidth":1,"strokeDash":[2,2]},"encoding":{"x":{"field":"v","type":"quantitative","scale":{"domain":[-2.31,2.47],"nice":false,"zero":false}}}},
{"data":{"values":[{"v":2}]},"mark":{"type":"rule","color":"#aaaaaa","strokeWidth":1,"strokeDash":[2,2]},"encoding":{"y":{"field":"v","type":"quantitative","scale":{"domain":[-1.5,34.3],"nice":false,"zero":false}}}},
{"data":{"values":[{"v":0}]},"mark":{"type":"rule","color":"#555555","strokeWidth":1},"encoding":{"x":{"field":"v","type":"quantitative","scale":{"domain":[-2.31,2.47],"nice":false,"zero":false}}}},
{"data":{"values":[{"v":0}]},"mark":{"type":"rule","color":"#444444","strokeWidth":1},"encoding":{"y":{"field":"v","type":"quantitative","scale":{"domain":[-1.5,34.3],"nice":false,"zero":false}}}},
{"data":{"name":"vn"},"mark":{"type":"point","filled":true,"size":26,"fill":"#cccccc","stroke":"#333333","strokeWidth":0.6,"opacity":1,"fillOpacity":0.85},
"encoding":{"x":{"field":"x","type":"quantitative","scale":{"domain":[-2.31,2.47],"nice":false,"zero":false},"axis":{"title":"log2 fold change","values":[-2,-1,0,1,2],"format":"d","labelFontSize":18,"labelColor":"#4d4d4d","titleFontSize":16,"titleColor":"#1a1a1a","titleFontWeight":"normal","tickSize":4,"tickColor":"#333333","domainColor":"#000000","domainWidth":1.5,"labelPadding":3,"titlePadding":6,"grid":false}},
"y":{"field":"y","type":"quantitative","scale":{"domain":[-1.5,34.3],"nice":false,"zero":false},"axis":{"title":"−log10 adjusted p−value","values":[0,10,20,30],"labelFontSize":18,"labelColor":"#4d4d4d","labelPadding":14,"tickSize":4,"tickColor":"#333333","titleFontSize":16,"titleColor":"#1a1a1a","titleFontWeight":"normal","titlePadding":5,"domainColor":"#000000","domainWidth":2,"grid":false}}}},
{"data":{"name":"vd"},"mark":{"type":"point","filled":true,"size":26,"fill":"#9c4f56","stroke":"#3a1014","strokeWidth":0.6,"opacity":1,"fillOpacity":0.8},"encoding":{"x":{"field":"x","type":"quantitative","scale":{"domain":[-2.31,2.47],"nice":false,"zero":false}},"y":{"field":"y","type":"quantitative","scale":{"domain":[-1.5,34.3],"nice":false,"zero":false}}}},
{"data":{"name":"vu"},"mark":{"type":"point","filled":true,"size":26,"fill":"#6d74ab","stroke":"#171a4d","strokeWidth":0.6,"opacity":1,"fillOpacity":0.8},"encoding":{"x":{"field":"x","type":"quantitative","scale":{"domain":[-2.31,2.47],"nice":false,"zero":false}},"y":{"field":"y","type":"quantitative","scale":{"domain":[-1.5,34.3],"nice":false,"zero":false}}}},
{"data":{"name":"vl"},"transform":[{"filter":"datum.c==='d'"}],"mark":{"type":"point","filled":true,"size":26,"fill":"#e0646e","stroke":"#7a2a30","strokeWidth":0.6,"opacity":1},"encoding":{"x":{"field":"x","type":"quantitative","scale":{"domain":[-2.31,2.47],"nice":false,"zero":false}},"y":{"field":"y","type":"quantitative","scale":{"domain":[-1.5,34.3],"nice":false,"zero":false}}}},
{"data":{"name":"vl"},"transform":[{"filter":"datum.c==='u'"}],"mark":{"type":"point","filled":true,"size":26,"fill":"#7b82b6","stroke":"#2a2d5e","strokeWidth":0.6,"opacity":1},"encoding":{"x":{"field":"x","type":"quantitative","scale":{"domain":[-2.31,2.47],"nice":false,"zero":false}},"y":{"field":"y","type":"quantitative","scale":{"domain":[-1.5,34.3],"nice":false,"zero":false}}}},
{"data":{"name":"vl"},"transform":[{"filter":{"field":"g","oneOf":["TMT1","YLR297W","MF(ALPHA)1","YCT1","POT1","STR3","YOR338W"]}}],"mark":{"type":"text","fontSize":11,"color":"#1a1a1a","align":"center","baseline":"middle","dx":12,"dy":-8},"encoding":{"x":{"field":"x","type":"quantitative","scale":{"domain":[-2.31,2.47],"nice":false,"zero":false}},"y":{"field":"y","type":"quantitative","scale":{"domain":[-1.5,34.3],"nice":false,"zero":false}},"text":{"field":"g"}}},
{"data":{"name":"vl"},"transform":[{"filter":{"field":"g","oneOf":["CHA1","STE3","MET5","MET30","ARG3"]}}],"mark":{"type":"text","fontSize":11,"color":"#1a1a1a","align":"center","baseline":"middle","dx":-12,"dy":9},"encoding":{"x":{"field":"x","type":"quantitative","scale":{"domain":[-2.31,2.47],"nice":false,"zero":false}},"y":{"field":"y","type":"quantitative","scale":{"domain":[-1.5,34.3],"nice":false,"zero":false}},"text":{"field":"g"}}},
{"data":{"name":"vl"},"transform":[{"filter":{"field":"g","oneOf":["FUS3","AFB1","SER33","MET1","RPI1"]}}],"mark":{"type":"text","fontSize":11,"color":"#1a1a1a","align":"center","baseline":"middle","dx":-14,"dy":-9},"encoding":{"x":{"field":"x","type":"quantitative","scale":{"domain":[-2.31,2.47],"nice":false,"zero":false}},"y":{"field":"y","type":"quantitative","scale":{"domain":[-1.5,34.3],"nice":false,"zero":false}},"text":{"field":"g"}}},
{"data":{"name":"vl"},"transform":[{"filter":"indexof(['MEP2','MET28','MET2','MET8','BSC1'],datum.g)>=0 || (datum.g==='FLO9' && datum.y>10)"}],"mark":{"type":"text","fontSize":11,"color":"#1a1a1a","align":"left","baseline":"middle","dx":6,"dy":4},"encoding":{"x":{"field":"x","type":"quantitative","scale":{"domain":[-2.31,2.47],"nice":false,"zero":false}},"y":{"field":"y","type":"quantitative","scale":{"domain":[-1.5,34.3],"nice":false,"zero":false}},"text":{"field":"g"}}},
{"data":{"name":"vl"},"transform":[{"filter":{"field":"g","oneOf":["MET16","MET3","MET6","YEL023C"]}}],"mark":{"type":"text","fontSize":11,"color":"#1a1a1a","align":"right","baseline":"middle","dx":-5,"dy":3},"encoding":{"x":{"field":"x","type":"quantitative","scale":{"domain":[-2.31,2.47],"nice":false,"zero":false}},"y":{"field":"y","type":"quantitative","scale":{"domain":[-1.5,34.3],"nice":false,"zero":false}},"text":{"field":"g"}}},
{"data":{"name":"vl"},"transform":[{"filter":"datum.g==='YAP5'"}],"mark":{"type":"text","fontSize":11,"color":"#1a1a1a","align":"right","baseline":"middle","dx":-28,"dy":0},"encoding":{"x":{"field":"x","type":"quantitative","scale":{"domain":[-2.31,2.47],"nice":false,"zero":false}},"y":{"field":"y","type":"quantitative","scale":{"domain":[-1.5,34.3],"nice":false,"zero":false}},"text":{"field":"g"}}},
{"data":{"name":"vl"},"transform":[{"filter":{"field":"g","oneOf":["BDS1","MHT1","MET17"]}}],"mark":{"type":"text","fontSize":11,"color":"#1a1a1a","align":"center","baseline":"middle","dx":0,"dy":-10},"encoding":{"x":{"field":"x","type":"quantitative","scale":{"domain":[-2.31,2.47],"nice":false,"zero":false}},"y":{"field":"y","type":"quantitative","scale":{"domain":[-1.5,34.3],"nice":false,"zero":false}},"text":{"field":"g"}}},
{"data":{"name":"vl"},"transform":[{"filter":"datum.g==='MET13'"}],"mark":{"type":"text","fontSize":11,"color":"#1a1a1a","align":"center","baseline":"middle","dx":-6,"dy":-17},"encoding":{"x":{"field":"x","type":"quantitative","scale":{"domain":[-2.31,2.47],"nice":false,"zero":false}},"y":{"field":"y","type":"quantitative","scale":{"domain":[-1.5,34.3],"nice":false,"zero":false}},"text":{"field":"g"}}},
{"data":{"name":"vl"},"transform":[{"filter":"indexof(['PDC5','BNA3','DUG3','RAD59'],datum.g)>=0 || (datum.g==='FLO9' && datum.y<10)"}],"mark":{"type":"text","fontSize":11,"color":"#1a1a1a","align":"center","baseline":"middle","dx":13,"dy":10},"encoding":{"x":{"field":"x","type":"quantitative","scale":{"domain":[-2.31,2.47],"nice":false,"zero":false}},"y":{"field":"y","type":"quantitative","scale":{"domain":[-1.5,34.3],"nice":false,"zero":false}},"text":{"field":"g"}}},
{"data":{"name":"vl"},"transform":[{"filter":"datum.g==='MET14'"}],"mark":{"type":"text","fontSize":11,"color":"#1a1a1a","align":"left","baseline":"middle","dx":3,"dy":-7},"encoding":{"x":{"field":"x","type":"quantitative","scale":{"domain":[-2.31,2.47],"nice":false,"zero":false}},"y":{"field":"y","type":"quantitative","scale":{"domain":[-1.5,34.3],"nice":false,"zero":false}},"text":{"field":"g"}}},
{"data":{"name":"vl"},"transform":[{"filter":"datum.g==='HPA2'"}],"mark":{"type":"text","fontSize":11,"color":"#1a1a1a","align":"left","baseline":"middle","dx":16,"dy":-8},"encoding":{"x":{"field":"x","type":"quantitative","scale":{"domain":[-2.31,2.47],"nice":false,"zero":false}},"y":{"field":"y","type":"quantitative","scale":{"domain":[-1.5,34.3],"nice":false,"zero":false}},"text":{"field":"g"}}},
{"data":{"name":"vl"},"transform":[{"filter":"datum.g==='SAM1'"}],"mark":{"type":"text","fontSize":11,"color":"#1a1a1a","align":"left","baseline":"middle","dx":4,"dy":10},"encoding":{"x":{"field":"x","type":"quantitative","scale":{"domain":[-2.31,2.47],"nice":false,"zero":false}},"y":{"field":"y","type":"quantitative","scale":{"domain":[-1.5,34.3],"nice":false,"zero":false}},"text":{"field":"g"}}},
{"data":{"values":[{"t":"(A)"}]},"mark":{"type":"text","fontSize":17,"fontWeight":"bold","align":"left","baseline":"middle","color":"#000000"},"encoding":{"x":{"datum":-2.74,"type":"quantitative","scale":{"domain":[-2.31,2.47],"nice":false,"zero":false}},"y":{"datum":35.1,"type":"quantitative","scale":{"domain":[-1.5,34.3],"nice":false,"zero":false}},"text":{"field":"t"}}},
{"data":{"values":[{"t":"Differential expressed genes in CLEt5.1"}]},"mark":{"type":"text","fontSize":15.5,"align":"center","baseline":"middle","color":"#1a1a1a"},"encoding":{"x":{"datum":0.0,"type":"quantitative","scale":{"domain":[-2.31,2.47],"nice":false,"zero":false}},"y":{"datum":36.35,"type":"quantitative","scale":{"domain":[-1.5,34.3],"nice":false,"zero":false}},"text":{"field":"t"}}}
]}
]},
{"spacing":73,"hconcat":[
{"width":1,"height":1,"title":{"text":"(B)","anchor":"start","frame":"group","fontSize":17,"fontWeight":"bold","color":"#000000","dx":8,"offset":31},"data":{"values":[{}]},"mark":{"type":"text","text":""},"encoding":{}},
{"width":350,"height":232,
"title":{"text":"Growth rate","fontSize":20,"font":"Liberation Sans Narrow, Liberation Sans","fontWeight":"normal","color":"#111111","offset":14},
"encoding":{"x":{"field":"cond","type":"nominal","sort":["5% Glucose","5% Maltose","5% Galactose"],"scale":{"paddingInner":0.25,"paddingOuter":0.125},"axis":{"title":null,"labelAngle":-45,"labelFontSize":17,"labelColor":"#111111","tickSize":8,"tickWidth":2.5,"tickColor":"#000000","domainColor":"#000000","domainWidth":3,"labelPadding":4}}},
"layer":[
{"data":{"name":"growth"},"mark":{"type":"point","shape":"M-1,-0.23H1V0.23H-1Z","size":900,"filled":true,"opacity":1,"strokeWidth":0},"encoding":{"xOffset":{"field":"strain","type":"nominal","scale":{"paddingInner":0,"paddingOuter":0}},"y":{"field":"m","type":"quantitative","scale":{"domain":[0,0.6],"nice":false},"axis":{"title":"µmax (OD/h)","values":[0,0.2,0.4,0.6],"format":".1f","labelFontSize":17,"labelFont":"Liberation Sans Narrow, Liberation Sans","labelColor":"#111111","tickSize":8,"tickWidth":2.5,"tickColor":"#000000","domainWidth":3,"domainColor":"#000000","labelPadding":2,"titleFontSize":15,"titleFontWeight":"normal","titlePadding":25,"titleColor":"#111111","grid":false}},"color":{"field":"strain","type":"nominal","scale":{"domain":["CL248.1","CLEt5.1"],"range":["#251a86","#ff1a1a"]},"legend":{"title":null,"orient":"none","legendX":583,"legendY":542,"direction":"vertical","symbolType":"M-1.2,-0.85H1.2V0.85H-1.2Z","symbolSize":545,"symbolStrokeWidth":0,"symbolOpacity":1,"labelFontSize":17,"labelFont":"Liberation Sans Narrow, Liberation Sans","labelColor":"#111111","rowPadding":9,"labelOffset":12,"padding":5}}}},
{"data":{"name":"growth"},"mark":{"type":"rule","strokeWidth":3.5},"encoding":{"xOffset":{"field":"strain","type":"nominal","scale":{"paddingInner":0,"paddingOuter":0}},"y":{"field":"lo","type":"quantitative","scale":{"domain":[0,0.6],"nice":false}},"y2":{"field":"hi"},"color":{"field":"strain","type":"nominal","scale":{"domain":["CL248.1","CLEt5.1"],"range":["#251a86","#ff1a1a"]}}}},
{"data":{"name":"growth"},"mark":{"type":"tick","thickness":3.5,"size":15,"opacity":1},"encoding":{"xOffset":{"field":"strain","type":"nominal","scale":{"paddingInner":0,"paddingOuter":0}},"y":{"field":"lo","type":"quantitative","scale":{"domain":[0,0.6],"nice":false}},"color":{"field":"strain","type":"nominal","scale":{"domain":["CL248.1","CLEt5.1"],"range":["#251a86","#ff1a1a"]}}}},
{"data":{"name":"growth"},"mark":{"type":"tick","thickness":3.5,"size":15,"opacity":1},"encoding":{"xOffset":{"field":"strain","type":"nominal","scale":{"paddingInner":0,"paddingOuter":0}},"y":{"field":"hi","type":"quantitative","scale":{"domain":[0,0.6],"nice":false}},"color":{"field":"strain","type":"nominal","scale":{"domain":["CL248.1","CLEt5.1"],"range":["#251a86","#ff1a1a"]}}}},
{"data":{"name":"stars"},"mark":{"type":"text","fontSize":26,"fontWeight":"bold","color":"#000000","baseline":"middle"},"encoding":{"y":{"datum":0.565,"type":"quantitative","scale":{"domain":[0,0.6],"nice":false}},"text":{"field":"sig"}}}
]}
]}
]},
{"width":705,"height":671,
"layer":[
{"data":{"name":"edges"},"transform":[{"filter":"datum.k==='g'"},{"lookup":"s","from":{"data":{"name":"nodes"},"key":"id","fields":["x","y"]},"as":["xa","ya"]},{"lookup":"t","from":{"data":{"name":"nodes"},"key":"id","fields":["x","y"]},"as":["xb","yb"]}],"mark":{"type":"rule","color":"#c9c9c9","strokeWidth":1.3},"encoding":{"x":{"field":"xa","type":"quantitative","scale":{"domain":[4,709],"nice":false,"zero":false},"axis":null},"y":{"field":"ya","type":"quantitative","scale":{"domain":[908,1579],"nice":false,"zero":false,"reverse":true},"axis":null},"x2":{"field":"xb"},"y2":{"field":"yb"}}},
{"data":{"name":"edges"},"transform":[{"filter":"datum.k==='r'"},{"lookup":"s","from":{"data":{"name":"nodes"},"key":"id","fields":["x","y"]},"as":["xa","ya"]},{"lookup":"t","from":{"data":{"name":"nodes"},"key":"id","fields":["x","y"]},"as":["xb","yb"]}],"mark":{"type":"rule","color":"#f2385e","strokeWidth":2.6},"encoding":{"x":{"field":"xa","type":"quantitative","scale":{"domain":[4,709],"nice":false,"zero":false},"axis":null},"y":{"field":"ya","type":"quantitative","scale":{"domain":[908,1579],"nice":false,"zero":false,"reverse":true},"axis":null},"x2":{"field":"xb"},"y2":{"field":"yb"}}},
{"data":{"name":"nodes"},"transform":[{"filter":"datum.tf===0"}],"mark":{"type":"point","shape":"circle","filled":true,"size":2300,"stroke":"#3a3a3a","strokeWidth":1.2,"opacity":1,"fillOpacity":0.88},"encoding":{"x":{"field":"x","type":"quantitative","scale":{"domain":[4,709],"nice":false,"zero":false},"axis":null},"y":{"field":"y","type":"quantitative","scale":{"domain":[908,1579],"nice":false,"zero":false,"reverse":true},"axis":null},"fill":{"field":"fc","type":"quantitative","scale":{"domain":[0.7,1.05,1.6,2.0,2.4],"range":["#ffffff","#eceff2","#b9cedc","#79a8c9","#2a6b95"]},"legend":{"title":"Node Fill Color:\u00a0 FoldChange","orient":"none","legendX":486,"legendY":1486,"direction":"horizontal","gradientLength":202,"gradientThickness":34,"values":[0.7,1.125,1.55,1.975,2.4],"format":".1f","titleFontSize":9,"titleFontWeight":"normal","titleColor":"#333333","labelFontSize":9,"labelColor":"#555555","gradientStrokeColor":"#555555","gradientStrokeWidth":1,"titlePadding":4,"labelOverlap":false}}}},
{"data":{"name":"nodes"},"transform":[{"filter":"datum.tf===0"}],"mark":{"type":"text","fontStyle":"italic","color":"#333333","align":"center","baseline":"middle"},"encoding":{"x":{"field":"x","type":"quantitative","scale":{"domain":[4,709],"nice":false,"zero":false},"axis":null},"y":{"field":"y","type":"quantitative","scale":{"domain":[908,1579],"nice":false,"zero":false,"reverse":true},"axis":null},"text":{"field":"n"},"size":{"condition":{"test":"datum.n==='YKL068W-A'","value":6.5},"value":9.5}}},
{"data":{"name":"nodes"},"transform":[{"filter":"datum.tf===1"}],"mark":{"type":"point","shape":"triangle-up","filled":true,"size":2300,"fill":"#f2133c","stroke":"#4a0a10","strokeWidth":1,"opacity":1},"encoding":{"x":{"field":"x","type":"quantitative","scale":{"domain":[4,709],"nice":false,"zero":false},"axis":null},"y":{"field":"y","type":"quantitative","scale":{"domain":[908,1579],"nice":false,"zero":false,"reverse":true},"axis":null}}},
{"data":{"name":"nodes"},"transform":[{"filter":"datum.tf===1"}],"mark":{"type":"text","fontStyle":"italic","fontSize":13,"color":"#1a1a1a","align":"center","baseline":"middle","dx":4,"dy":14},"encoding":{"x":{"field":"x","type":"quantitative","scale":{"domain":[4,709],"nice":false,"zero":false},"axis":null},"y":{"field":"y","type":"quantitative","scale":{"domain":[908,1579],"nice":false,"zero":false,"reverse":true},"axis":null},"text":{"field":"n"}}},
{"data":{"values":[{"t":"(C)"}]},"mark":{"type":"text","fontSize":17,"fontWeight":"bold","align":"left","baseline":"middle","color":"#000000"},"encoding":{"x":{"datum":18,"type":"quantitative","scale":{"domain":[4,709],"nice":false,"zero":false},"axis":null},"y":{"datum":935,"type":"quantitative","scale":{"domain":[908,1579],"nice":false,"zero":false,"reverse":true},"axis":null},"text":{"field":"t"}}}
]}
]
}
